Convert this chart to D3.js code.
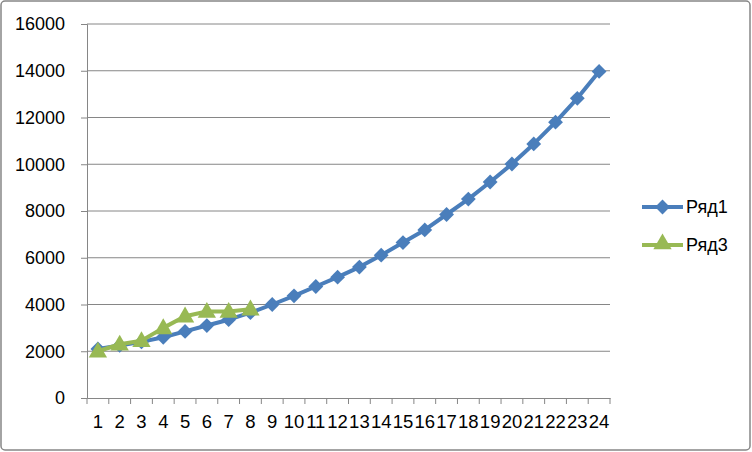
<!DOCTYPE html>
<html><head><meta charset="utf-8">
<script src="https://cdn.jsdelivr.net/npm/d3@7"></script>
<style>body{margin:0;background:#fff}svg{display:block}</style>
</head><body>
<svg id="c" width="752" height="452"></svg>
<script>
const categories = d3.range(1, 25).map(String);
const seriesNames = ["Ряд1", "Ряд3"];
const row1 = [2100, 2250, 2400, 2600, 2850, 3100, 3350, 3650, 4000, 4370, 4770, 5170, 5600, 6110, 6650, 7190, 7850, 8510, 9240, 10010, 10870, 11800, 12820, 13970];
const row3 = [2000, 2300, 2450, 3000, 3500, 3700, 3700, 3800];
const yTicks = [0, 2000, 4000, 6000, 8000, 10000, 12000, 14000, 16000];
const colors = ["#4A7EBB", "#98B954"];

const svg = d3.select("#c");
const font = "'Liberation Sans', Arial, sans-serif";
svg.append("rect").attr("x", 1).attr("y", 1).attr("width", 749).attr("height", 449)
  .attr("rx", 4).attr("fill", "#fff").attr("stroke", "#868686").attr("stroke-width", 1.5);

const L = 87, R = 610, T = 24, B = 398;
const x = d3.scaleBand().domain(categories).range([L, R]);
const y = d3.scaleLinear().domain([0, 16000]).range([B, T]);

// gridlines
svg.append("g").selectAll("line").data(yTicks.slice(1)).join("line")
  .attr("x1", L).attr("x2", R).attr("y1", d => y(d)).attr("y2", d => y(d))
  .attr("stroke", "#868686").attr("stroke-width", 1);

// y axis
const ya = svg.append("g").attr("transform", `translate(${L},0)`)
  .call(d3.axisLeft(y).tickValues(yTicks).tickSize(6).tickPadding(16).tickFormat(d3.format("d")));
ya.select(".domain").attr("stroke", "#868686");
ya.selectAll(".tick line").attr("stroke", "#868686");
ya.selectAll("text").attr("font-family", font).attr("font-size", 18).attr("fill", "#000");

// x axis
const xa = svg.append("g").attr("transform", `translate(0,${B})`)
  .call(d3.axisBottom(x).tickSize(0).tickPadding(17));
xa.select(".domain").attr("stroke", "#868686");
xa.selectAll("text").attr("font-family", font).attr("font-size", 18.5).attr("fill", "#000");
xa.append("g").selectAll("line").data(categories.concat(["end"])).join("line")
  .attr("x1", (d, i) => i < categories.length ? x(d) : R)
  .attr("x2", (d, i) => i < categories.length ? x(d) : R)
  .attr("y1", 0).attr("y2", 6).attr("stroke", "#868686");

const cx = i => x(categories[i]) + x.bandwidth() / 2;
const line = d3.line().x((d, i) => cx(i)).y(d => y(d));

const diamond = d3.symbol().type(d3.symbolDiamond2).size(140);
const tri = d3.symbol().type(d3.symbolTriangle).size(145);

// series 1
svg.append("path").datum(row1).attr("d", line).attr("fill", "none")
  .attr("stroke", colors[0]).attr("stroke-width", 4).attr("stroke-linejoin", "round");
svg.append("g").selectAll("path").data(row1).join("path")
  .attr("d", diamond).attr("transform", (d, i) => `translate(${cx(i)},${y(d)})`)
  .attr("fill", colors[0]);

// series 3
svg.append("path").datum(row3).attr("d", line).attr("fill", "none")
  .attr("stroke", colors[1]).attr("stroke-width", 4).attr("stroke-linejoin", "round");
svg.append("g").selectAll("path").data(row3).join("path")
  .attr("d", tri).attr("transform", (d, i) => `translate(${cx(i)},${y(d) + 1})`)
  .attr("fill", colors[1]);

// legend
const lg = svg.append("g");
const ly = [207, 245];
seriesNames.forEach((n, i) => {
  lg.append("line").attr("x1", 642).attr("x2", 683).attr("y1", ly[i]).attr("y2", ly[i])
    .attr("stroke", colors[i]).attr("stroke-width", 4);
  lg.append("path").attr("d", i === 0 ? diamond : tri)
    .attr("transform", `translate(662.5,${ly[i] + (i === 0 ? 0 : -1)})`).attr("fill", colors[i]);
  lg.append("text").attr("x", 686).attr("y", ly[i]).attr("dy", "0.35em")
    .attr("font-family", font).attr("font-size", 18).text(n);
});
</script>
</body></html>
